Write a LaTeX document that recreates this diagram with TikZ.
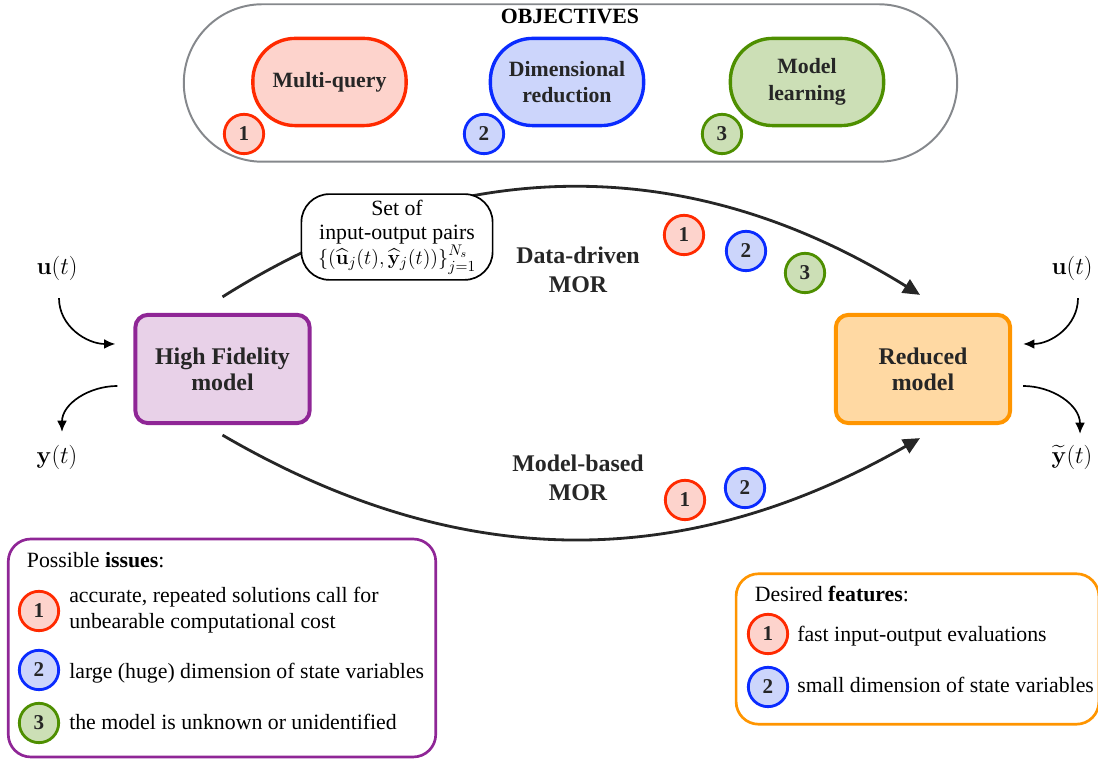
\documentclass[tikz,border=0pt]{standalone}
\usepackage{amsmath,amssymb}
\usepackage[no-math]{fontspec}
\setmainfont{Liberation Serif}
\usetikzlibrary{arrows.meta,positioning}

\definecolor{redline}{HTML}{FF2A00}
\definecolor{redfill}{HTML}{FDD3CC}
\definecolor{blueline}{HTML}{0A2BFF}
\definecolor{bluefill}{HTML}{CCD5FB}
\definecolor{greenline}{HTML}{4E8F00}
\definecolor{greenfill}{HTML}{CCDFB6}
\definecolor{purpline}{HTML}{8F2696}
\definecolor{purpfill}{HTML}{E8D1E8}
\definecolor{orline}{HTML}{FF9500}
\definecolor{orfill}{HTML}{FFD9A3}
\definecolor{objgray}{HTML}{85888C}
\definecolor{labeltext}{HTML}{262626}

\begin{document}
\begin{tikzpicture}[x=0.025cm,y=0.025cm,
    objective/.style={draw=#1line, fill=#1fill, line width=2.4pt, rounded corners=30pt,
        minimum width=109pt, minimum height=62pt, align=center, text=labeltext,
        font=\fontsize{15.5}{19}\selectfont\bfseries},
    badge/.style={circle, draw=#1line, fill=#1fill, line width=2pt, minimum size=28pt,
        inner sep=0pt, text=labeltext, font=\fontsize{15}{18}\selectfont\bfseries},
    model/.style={draw=#1line, fill=#1fill, line width=2.8pt, rounded corners=9pt,
        minimum width=124pt, minimum height=77pt, align=center, text=labeltext,
        font=\fontsize{17}{18.5}\selectfont\bfseries},
    signal/.style={font=\fontsize{16}{19}\selectfont},
    flow/.style={line width=2pt, black!85, -{Triangle[length=12pt,width=11pt]}},
    io/.style={line width=1.2pt, -{Latex[length=8pt,width=7pt]}},
    listbox/.style={draw=#1, line width=1.9pt, rounded corners=16pt, fill=white},
    item/.style={align=left, font=\fontsize{15.5}{18}\selectfont},
    morlabel/.style={align=center, text=labeltext, font=\fontsize{17}{20.5}\selectfont\bfseries}
  ]
  \useasboundingbox (0,0) rectangle (1098,760);

  % objectives
  \node[draw=objgray, line width=1.4pt, rounded corners=56pt,
        minimum width=550pt, minimum height=112pt] (objectives) at (570.5,677) {};
  \node[font=\fontsize{15.5}{18}\selectfont\bfseries] (objtitle) at (570,744) {OBJECTIVES};
  \node[objective=red] (multiquery) at (329.5,678) {Multi-query};
  \node[objective=blue] (dimred) at (567,678) {Dimensional\\reduction};
  \node[objective=green] (modlearn) at (807,678) {Model\\learning};
  \node[badge=red] (obj1) at (244,626) {1};
  \node[badge=blue] (obj2) at (484,626) {2};
  \node[badge=green] (obj3) at (722,626) {3};

  % models
  \node[model=purp] (hf) at (222.5,391) {High Fidelity\\model};
  \node[model=or] (rm) at (923,391) {Reduced\\model};

  % inputs and outputs
  \node[signal] (uL) at (57,492) {$\mathbf{u}(t)$};
  \node[signal] (yL) at (57,303) {$\mathbf{y}(t)$};
  \node[signal] (uR) at (1072,492) {$\mathbf{u}(t)$};
  \node[signal] (yR) at (1072,303) {$\widetilde{\mathbf{y}}(t)$};
  \draw[io] ([shift={(2,-13)}]uL.south) to[out=-90,in=180] ([shift={(-18,25)}]hf.west);
  \draw[io] ([shift={(-16,-17)}]hf.west) to[out=180,in=90] ([shift={(5,8)}]yL.north);
  \draw[io] ([shift={(6,-13)}]uR.south) to[out=-90,in=0] ([shift={(11,25)}]rm.east);
  \draw[io] ([shift={(11,-17)}]rm.east) to[out=0,in=90] ([shift={(8,6)}]yR.north);

  % reduction paths
  \draw[flow] ([shift={(0,16)}]hf.north) to[bend left=32] ([shift={(-3,18)}]rm.north);
  \draw[flow] ([shift={(0,-10)}]hf.south) to[bend right=30] ([shift={(-3,-13)}]rm.south);
  \node[draw, fill=white, line width=1.2pt, rounded corners=20pt, minimum width=136pt,
        minimum height=61pt, align=center, font=\fontsize{15.5}{17.5}\selectfont,
        inner sep=2pt] (pairs) at (397,523)
        {Set of\\input-output pairs\\$\{(\widehat{\mathbf{u}}_j(t),\widehat{\mathbf{y}}_j(t))\}_{j=1}^{N_s}$};
  \node[morlabel] (datadriven) at (578,490) {Data-driven\\MOR};
  \node[morlabel] (modelbased) at (578,282) {Model-based\\MOR};
  \node[badge=red] (dd1) at (684,525) {1};
  \node[badge=blue] (dd2) at (746,509) {2};
  \node[badge=green] (dd3) at (805,487) {3};
  \node[badge=red] (mb1) at (685,260) {1};
  \node[badge=blue] (mb2) at (745,272) {2};

  % issues
  \node[listbox=purpline, minimum width=304pt, minimum height=155pt] (issues) at (222,112) {};
  \node[item, anchor=base west] (issuestitle) at (22,192) {Possible \textbf{issues}:};
  \node[badge=red] (iss1) at (39,149) {1};
  \node[badge=blue] (iss2) at (39,90) {2};
  \node[badge=green] (iss3) at (39,37) {3};
  \node[item, anchor=west, inner xsep=0pt] (isstext1) at (69,150) {accurate, repeated solutions call for\\unbearable computational cost};
  \node[item, anchor=base west, inner xsep=0pt] (isstext2) at (69,81) {large (huge) dimension of state variables};
  \node[item, anchor=base west, inner xsep=0pt] (isstext3) at (69,30) {the model is unknown or unidentified};

  % features
  \node[listbox=orline, minimum width=258pt, minimum height=107pt] (features) at (917.5,111) {};
  \node[item, anchor=base west] (feattitle) at (750,158) {Desired \textbf{features}:};
  \node[badge=red] (feat1) at (768,126) {1};
  \node[badge=blue] (feat2) at (768,73) {2};
  \node[item, anchor=base west, inner xsep=0pt] (feattext1) at (797,118) {fast input-output evaluations};
  \node[item, anchor=base west, inner xsep=0pt] (feattext2) at (797,67) {small dimension of state variables};
\end{tikzpicture}
\end{document}
